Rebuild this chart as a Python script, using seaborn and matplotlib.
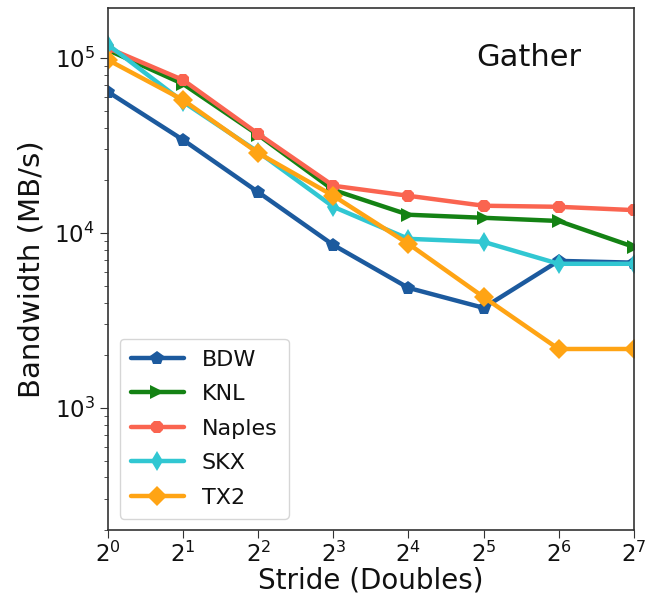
import numpy as np
import pandas as pd
import matplotlib
matplotlib.use("Agg")
import matplotlib.pyplot as plt
import seaborn as sns

strides = [1, 2, 4, 8, 16, 32, 64, 128]
bdw = [64000, 34000, 17100, 8530, 4850, 3730, 6920, 6760]
knl = [111000, 71000, 36300, 17600, 12700, 12200, 11700, 8320]
naples = [114000, 74800, 36800, 18600, 16300, 14300, 14100, 13500]
skx = [119000, 56100, 29000, 14100, 9250, 8890, 6660, 6660]
tx2 = [97400, 57500, 28600, 16300, 8660, 4300, 2170, 2170]
names = ["BDW", "KNL", "Naples", "SKX", "TX2"]
series = [bdw, knl, naples, skx, tx2]

colors = {"BDW": "#1c5a9e", "KNL": "#148214", "Naples": "#fa6450",
          "SKX": "#31c7d2", "TX2": "#ffa414"}
markers = {"BDW": "p", "KNL": ">", "Naples": "8", "SKX": "d", "TX2": "D"}

df = pd.DataFrame({
    "Stride": np.tile(strides, len(names)),
    "Bandwidth": np.concatenate(series),
    "Arch": np.repeat(names, len(strides)),
})

sns.set_style("ticks")
plt.rcParams["font.family"] = ["DejaVu Sans"]
plt.rcParams["text.color"] = "#111111"
plt.rcParams["axes.labelcolor"] = "#111111"
plt.rcParams["xtick.color"] = "#333333"
plt.rcParams["ytick.color"] = "#333333"
plt.rcParams["xtick.labelcolor"] = "#111111"
plt.rcParams["ytick.labelcolor"] = "#111111"

fig = plt.figure(figsize=(6.48, 5.97), dpi=100)
ax = fig.add_axes([0.1667, 0.112, 0.8113, 0.8746])

sns.lineplot(data=df, x="Stride", y="Bandwidth", hue="Arch", style="Arch",
             palette=colors, markers=markers, dashes=False, linewidth=3.2,
             markersize=10, markeredgewidth=0, ax=ax, sort=False)

ax.set_xscale("log", base=2)
ax.set_yscale("log")
ax.set_xlim(1, 128)
ax.set_ylim(200, 193000)
ax.set_xticks(strides)
ax.set_xlabel("Stride (Doubles)", fontsize=20, labelpad=0)
ax.set_ylabel("Bandwidth (MB/s)", fontsize=21, labelpad=6)
ax.tick_params(axis="both", which="major", labelsize=16.5, length=6)
ax.tick_params(axis="x", which="major", pad=2)
ax.tick_params(axis="y", which="minor", length=3)
for s in ax.spines.values():
    s.set_color("#333333")
    s.set_linewidth(1.2)

ax.text(0.901, 0.905, "Gather", transform=ax.transAxes, fontsize=22,
        ha="right", va="center")

leg = ax.legend(loc="lower left", fontsize=16, frameon=True,
                handlelength=2.4, borderpad=0.5, labelspacing=0.65,
                borderaxespad=0.0, bbox_to_anchor=(0.022, 0.022))
leg.get_frame().set_edgecolor("#cccccc")

fig.savefig("out.png", dpi=100)
